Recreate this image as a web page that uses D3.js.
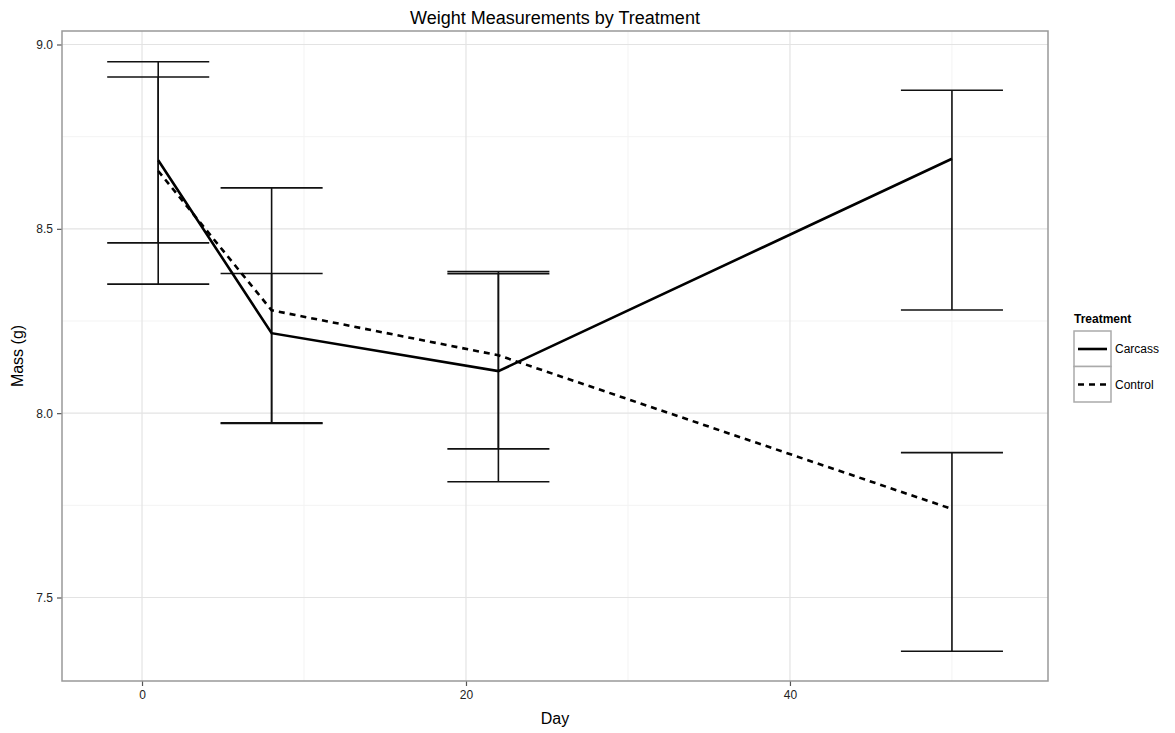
<!DOCTYPE html>
<html><head><meta charset="utf-8">
<script src="https://cdn.jsdelivr.net/npm/d3@7"></script>
<style>body{margin:0;background:#fff;} text{font-family:"Liberation Sans",Arial,Helvetica,sans-serif;}</style>
</head><body><svg id="c" width="1175" height="733"></svg>
<script>
const days = [1, 8, 22, 50];
const carcassMean = [8.686, 8.217, 8.114, 8.690];
const carcassLow  = [8.462, 7.972, 7.814, 8.280];
const carcassHigh = [8.912, 8.379, 8.384, 8.876];
const controlMean = [8.657, 8.279, 8.157, 7.740];
const controlLow  = [8.350, 7.974, 7.903, 7.354];
const controlHigh = [8.953, 8.611, 8.378, 7.893];
const xTicks = [0, 20, 40];
const xMinor = [10, 30, 50];
const yTicks = [7.5, 8.0, 8.5, 9.0];
const yMinor = [7.75, 8.25, 8.75];
const seriesNames = ["Carcass", "Control"];

const svg = d3.select("#c");
const L = 62, R = 1048, T = 31, B = 681;
const x = d3.scaleLinear().domain([-4.94, 55.93]).range([L, R]);
const y = d3.scaleLinear().domain([7.2735, 9.0366]).range([B, T]);

// grid
const g = svg.append("g");
g.selectAll(".xm").data(xMinor).enter().append("line")
  .attr("x1", d => x(d)).attr("x2", d => x(d)).attr("y1", T).attr("y2", B)
  .attr("stroke", "#f3f3f3").attr("stroke-width", 1);
g.selectAll(".ym").data(yMinor).enter().append("line")
  .attr("y1", d => y(d)).attr("y2", d => y(d)).attr("x1", L).attr("x2", R)
  .attr("stroke", "#f3f3f3").attr("stroke-width", 1);
g.selectAll(".xM").data(xTicks).enter().append("line")
  .attr("x1", d => x(d)).attr("x2", d => x(d)).attr("y1", T).attr("y2", B)
  .attr("stroke", "#e3e3e3").attr("stroke-width", 1.2);
g.selectAll(".yM").data(yTicks).enter().append("line")
  .attr("y1", d => y(d)).attr("y2", d => y(d)).attr("x1", L).attr("x2", R)
  .attr("stroke", "#e3e3e3").attr("stroke-width", 1.2);

// axes
const xAxis = svg.append("g").attr("transform", `translate(0,${B})`)
  .call(d3.axisBottom(x).tickValues(xTicks).tickFormat(d3.format("d")).tickSize(5).tickPadding(4));
const yAxis = svg.append("g").attr("transform", `translate(${L},0)`)
  .call(d3.axisLeft(y).tickValues(yTicks).tickFormat(d3.format(".1f")).tickSize(5).tickPadding(4));
[xAxis, yAxis].forEach(a => {
  a.select(".domain").remove();
  a.selectAll(".tick line").attr("stroke", "#555").attr("stroke-width", 1.2);
  a.selectAll(".tick text").attr("fill", "#222").style("font-size", "12px");
});

// panel border
svg.append("rect").attr("x", L).attr("y", T).attr("width", R - L).attr("height", B - T)
  .attr("fill", "none").attr("stroke", "#999").attr("stroke-width", 1.5);

// error bars
const hw = 3.15;
function errbars(low, high) {
  const eg = svg.append("g").attr("stroke", "#111").attr("stroke-width", 1.6).attr("fill", "none");
  days.forEach((d, i) => {
    eg.append("line").attr("x1", x(d)).attr("x2", x(d)).attr("y1", y(low[i])).attr("y2", y(high[i]));
    eg.append("line").attr("x1", x(d - hw)).attr("x2", x(d + hw)).attr("y1", y(low[i])).attr("y2", y(low[i]));
    eg.append("line").attr("x1", x(d - hw)).attr("x2", x(d + hw)).attr("y1", y(high[i])).attr("y2", y(high[i]));
  });
}
errbars(carcassLow, carcassHigh);
errbars(controlLow, controlHigh);

// lines
const line = d3.line().x((d, i) => x(days[i])).y(d => y(d));
svg.append("path").datum(carcassMean).attr("d", line)
  .attr("fill", "none").attr("stroke", "#000").attr("stroke-width", 2.6);
svg.append("path").datum(controlMean).attr("d", line)
  .attr("fill", "none").attr("stroke", "#000").attr("stroke-width", 2.6).attr("stroke-dasharray", "6,5");

// titles
svg.append("text").attr("x", (L + R) / 2).attr("y", 24).attr("text-anchor", "middle")
  .style("font-size", "18px").attr("fill", "#000").text("Weight Measurements by Treatment");
svg.append("text").attr("x", (L + R) / 2).attr("y", 724).attr("text-anchor", "middle")
  .style("font-size", "16px").attr("fill", "#000").text("Day");
svg.append("text").attr("transform", `translate(23,${(T + B) / 2}) rotate(-90)`).attr("text-anchor", "middle")
  .style("font-size", "16px").attr("fill", "#000").text("Mass (g)");

// legend
const lg = svg.append("g");
lg.append("text").attr("x", 1074).attr("y", 323).style("font-size", "12px").style("font-weight", "bold")
  .attr("fill", "#000").text("Treatment");
seriesNames.forEach((nm, i) => {
  const top = 331 + i * 35.5;
  lg.append("rect").attr("x", 1074).attr("y", top).attr("width", 37).attr("height", 35.5)
    .attr("fill", "#fff").attr("stroke", "#aaa").attr("stroke-width", 1.5);
  lg.append("line").attr("x1", 1078).attr("x2", 1107).attr("y1", top + 18).attr("y2", top + 18)
    .attr("stroke", "#000").attr("stroke-width", 2.6)
    .attr("stroke-dasharray", i === 1 ? "6,5" : null);
  lg.append("text").attr("x", 1115).attr("y", top + 22).style("font-size", "12px").attr("fill", "#000").text(nm);
});
</script></body></html>
